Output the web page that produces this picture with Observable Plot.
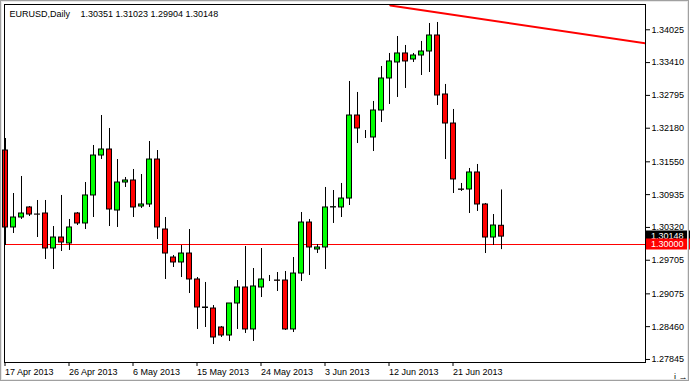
<!DOCTYPE html>
<html>
<head>
<meta charset="utf-8">
<script src="https://cdn.jsdelivr.net/npm/d3@7"></script>
<script src="https://cdn.jsdelivr.net/npm/@observablehq/plot@0.6"></script>
<style>
  html, body { margin: 0; padding: 0; background: #ffffff; }
  #wrap { position: relative; width: 690px; height: 382px; overflow: hidden; }
  #wrap svg { display: block; }
</style>
</head>
<body>
<div id="wrap"></div>
<script>
// ---- data ----
const symbol = "EURUSD,Daily";
const lastQuote = [1.30351, 1.31023, 1.29904, 1.30148]; // O H L C of last bar

const open = [1.31762,1.30319,1.30506,1.30694,1.30562,1.30581,1.29925,1.30131,1.30019,1.30581,
  1.30394,1.30919,1.31668,1.31781,1.30637,1.31162,1.31200,1.30712,1.30750,1.31593,
  1.30281,1.29756,1.29663,1.29831,1.29344,1.28819,1.28800,1.28444,1.28294,1.28894,
  1.29194,1.28407,1.29194,1.29344,1.29325,1.29325,1.28407,1.29456,1.30412,1.29906,
  1.29944,1.30694,1.30694,1.30862,1.32418,1.32006,1.32006,1.32512,1.33112,1.33412,
  1.33581,1.33468,1.33543,1.33618,1.33918,1.32812,1.32268,1.31031,1.31031,1.31350,
  1.30750,1.30131,1.30351];
const high = [1.31987,1.30956,1.31275,1.30712,1.30825,1.30825,1.30337,1.30919,1.30469,1.30600,
  1.31162,1.31856,1.32418,1.32175,1.31593,1.31256,1.31406,1.31312,1.31931,1.31762,
  1.30506,1.29794,1.29981,1.30281,1.29381,1.29288,1.28856,1.28463,1.28894,1.29325,
  1.29963,1.29550,1.29925,1.29419,1.29475,1.29494,1.29756,1.30600,1.30469,1.30000,
  1.31069,1.31012,1.31144,1.33056,1.32850,1.32137,1.32681,1.33337,1.33581,1.33899,
  1.33731,1.33581,1.33806,1.34143,1.34162,1.33000,1.32531,1.31144,1.31425,1.31500,
  1.30769,1.30562,1.31023];
const low = [1.29981,1.30206,1.30469,1.30525,1.30131,1.29719,1.29531,1.29869,1.29888,1.30356,
  1.30281,1.30506,1.31593,1.30337,1.30319,1.31069,1.30506,1.30675,1.30694,1.30094,
  1.29344,1.29569,1.29381,1.29081,1.28407,1.28444,1.28125,1.28257,1.28182,1.28407,
  1.28332,1.28182,1.29006,1.29306,1.29119,1.28388,1.28350,1.29306,1.29419,1.29831,
  1.29531,1.30394,1.30506,1.30731,1.31893,1.31987,1.31743,1.32287,1.32625,1.32756,
  1.32925,1.33412,1.33168,1.33224,1.32606,1.31593,1.30956,1.30994,1.30581,1.30619,
  1.29831,1.29981,1.29904];
const close = [1.30319,1.30506,1.30581,1.30562,1.30560,1.29925,1.30131,1.30037,1.30319,1.30394,
  1.30919,1.31668,1.31781,1.30656,1.31162,1.31200,1.30694,1.30750,1.31593,1.30319,
  1.29831,1.29663,1.29831,1.29344,1.28819,1.28810,1.28257,1.28294,1.28894,1.29194,
  1.28407,1.29213,1.29344,1.29344,1.29320,1.28407,1.29456,1.30412,1.29944,1.29944,
  1.30694,1.30700,1.30862,1.32418,1.32175,1.32006,1.32512,1.33112,1.33431,1.33581,
  1.33431,1.33543,1.33618,1.33918,1.32793,1.32268,1.31219,1.31025,1.31350,1.30750,
  1.30131,1.30356,1.30148];

const levelLine = 1.30000;                       // horizontal line
const trendLine = [{i: 48.1, v: 1.3448}, {i: 80, v: 1.3377}]; // descending trend line

const yTicks = [1.34025,1.33410,1.32795,1.32180,1.31550,1.30935,1.30320,1.29705,1.29075,1.28460,1.27845];
const xTickIdx = [0, 8, 16, 24, 32, 40, 48, 56];
const xTickLabels = ["17 Apr 2013","26 Apr 2013","6 May 2013","15 May 2013","24 May 2013","3 Jun 2013","12 Jun 2013","21 Jun 2013"];

// ---- build ----
const bars = open.map((o, i) => ({i, o, h: high[i], l: low[i], c: close[i], up: close[i] >= o}));
const fmt = d3.format(".5f");
const W = 0.3125;

const plot = Plot.plot({
  width: 690,
  height: 382,
  marginLeft: 4,
  marginRight: 45,
  marginTop: 4,
  marginBottom: 20,
  style: {fontFamily: "'Liberation Sans', Arial, sans-serif", fontSize: "9px", background: "#ffffff", color: "#000000", overflow: "visible"},
  x: {type: "linear", domain: [-0.125, 80], axis: null},
  y: {type: "linear", domain: [1.27788, 1.34499], axis: null},
  marks: [
    Plot.ruleY([levelLine], {stroke: "#ff0000", strokeWidth: 1}),
    Plot.line(trendLine, {x: "i", y: "v", stroke: "#ff0000", strokeWidth: 2, clip: true}),
    Plot.ruleX(bars, {x: "i", y1: "l", y2: "h", stroke: "#000000", strokeWidth: 1}),
    Plot.rect(bars, {x1: d => d.i - W, x2: d => d.i + W, y1: "o", y2: "c",
      fill: d => d.up ? "#00ff00" : "#ff0000", stroke: "#000000", strokeWidth: 1}),
    Plot.frame({stroke: "#000000"}),
    Plot.axisY(yTicks, {anchor: "right", tickSize: 4, tickPadding: 2, tickFormat: fmt, fontSize: 9}),
    Plot.axisX(xTickIdx, {anchor: "bottom", tickSize: 4, tickPadding: 2, textAnchor: "start", dx: -0.5,
      tickFormat: d => xTickLabels[xTickIdx.indexOf(d)]}),
    Plot.text([symbol], {frameAnchor: "top-left", dx: 5, dy: 6, lineAnchor: "top", textAnchor: "start", fill: "#000000"}),
    Plot.text([lastQuote.map(fmt).join(" ")], {frameAnchor: "top-left", dx: 76, dy: 6, lineAnchor: "top", textAnchor: "start", fill: "#000000"})
  ]
});

document.getElementById("wrap").appendChild(plot);

// price label boxes on the right axis, placed with the plot's own y scale
const svg = d3.select(plot);
const ys = plot.scale("y");
const boxes = [
  {v: lastQuote[3], bg: "#000000"},
  {v: levelLine, bg: "#ff0000"}
];
const g = svg.append("g")
  .attr("font-family", "'Liberation Sans', Arial, sans-serif")
  .attr("font-size", 9)
  .attr("text-anchor", "start");
for (const b of boxes) {
  const yy = Math.round(ys.apply(b.v));
  g.append("rect").attr("x", 646).attr("y", yy - 5.5).attr("width", 44).attr("height", 11).attr("fill", b.bg);
  g.append("text").attr("x", 651).attr("y", yy).attr("dy", "0.35em").attr("text-anchor", "start")
    .attr("fill", "#ffffff").text(fmt(b.v));
}
// window border
svg.append("rect").attr("x", 0.5).attr("y", 0.5).attr("width", 688).attr("height", 380)
  .attr("fill", "none").attr("stroke", "#a0a0a0");
svg.append("rect").attr("x", 1.5).attr("y", 1.5).attr("width", 686).attr("height", 378)
  .attr("fill", "none").attr("stroke", "#e8e8e8");
</script>
</body>
</html>
